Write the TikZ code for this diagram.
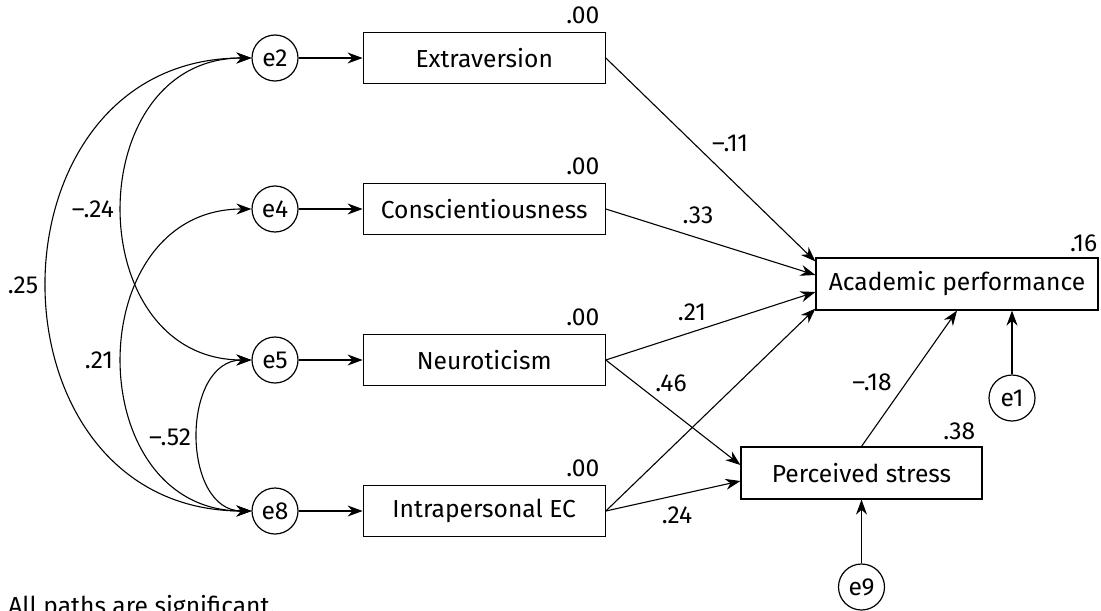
\documentclass[tikz,border=0pt]{standalone}
\usepackage{fontspec}
\setmainfont{Fira Sans}
\usetikzlibrary{positioning, arrows.meta, calc}

\tikzset{
  errnode/.style={draw, circle, line width=0.6pt, minimum size=23pt, inner sep=0pt},
  obsbox/.style={draw, rectangle, line width=0.6pt, minimum width=121pt, minimum height=25.5pt, inner sep=0pt},
  arrowline/.style={-{Stealth[length=7.5pt, width=5.5pt]}, line width=0.55pt},
  covline/.style={{Stealth[length=7.5pt, width=5.5pt]}-{Stealth[length=7.5pt, width=5.5pt]}, line width=0.55pt},
  coef/.style={inner sep=0pt},
}

\begin{document}
\begin{tikzpicture}[x=0.5pt, y=-0.5pt, font=\fontsize{12.3}{14}\selectfont]
  \useasboundingbox (0,0) rectangle (1101,610);

  % error terms of the predictors
  \node[errnode] (e2) at (275,58) {e2};
  \node[errnode] (e4) at (275,209) {e4};
  \node[errnode] (e5) at (275,360) {e5};
  \node[errnode] (e8) at (275,511) {e8};

  % predictors
  \node[obsbox, right=32pt of e2] (ext) {Extraversion};
  \node[obsbox, right=32pt of e4] (consc) {Conscientiousness};
  \node[obsbox, right=32pt of e5] (neuro) {Neuroticism};
  \node[obsbox, right=32pt of e8] (intra) {Intrapersonal EC};

  % outcomes
  \node[obsbox, minimum width=141pt, minimum height=26pt] (acad) at (957,284) {Academic performance};
  \node[obsbox, minimum width=120.5pt, minimum height=26pt] (stress) at (861.5,473) {Perceived stress};
  \node[errnode] (e1) at (1012,398) {e1};
  \node[errnode] (e9) at (861.5,587) {e9};

  % squared multiple correlations
  \node[coef, anchor=base east] (r2ext) at ([shift={(-3pt,4pt)}]ext.north east) {.00};
  \node[coef, anchor=base east] (r2consc) at ([shift={(-3pt,4pt)}]consc.north east) {.00};
  \node[coef, anchor=base east] (r2neuro) at ([shift={(-3pt,4pt)}]neuro.north east) {.00};
  \node[coef, anchor=base east] (r2intra) at ([shift={(-3pt,4pt)}]intra.north east) {.00};
  \node[coef, anchor=base east] (r2acad) at ([shift={(-0.5pt,3pt)}]acad.north east) {.16};
  \node[coef, anchor=base east] (r2stress) at ([shift={(-3.5pt,3.5pt)}]stress.north east) {.38};

  % error arrows
  \draw[arrowline] (e2) -- (ext);
  \draw[arrowline] (e4) -- (consc);
  \draw[arrowline] (e5) -- (neuro);
  \draw[arrowline] (e8) -- (intra);
  \draw[arrowline] (e1) -- (e1 |- acad.south);
  \draw[arrowline] (e9) -- (stress);

  % structural paths
  \draw[arrowline] (ext.east) -- ([yshift=-2pt]acad.north west);
  \draw[arrowline] (consc.east) -- ([yshift=4.5pt]acad.west);
  \draw[arrowline] (neuro.east) -- ([yshift=-4pt]acad.west);
  \draw[arrowline] (intra.east) -- ([yshift=1pt]acad.south west);
  \draw[arrowline] (neuro.east) -- ([yshift=4pt]stress.west);
  \draw[arrowline] (intra.east) -- ([yshift=-4pt]stress.west);
  \draw[arrowline] (stress.north) -- (acad.south);

  % covariances between the error terms
  \draw[covline] (e2.west) to[out=180, in=180, looseness=1.54] (e8.west);
  \draw[covline] (e2.west) to[out=180, in=180, looseness=1.46] (e5.west);
  \draw[covline] (e4.west) to[out=180, in=180, looseness=1.46] (e8.west);
  \draw[covline] (e5.west) to[out=180, in=180, looseness=1.2] (e8.west);

  % coefficients
  \node[coef] (cext) at (730,143) {–.11};
  \node[coef] (cconsc) at (698,215) {.33};
  \node[coef] (cneuro) at (692,312) {.21};
  \node[coef] (cneurostress) at (671,383) {.46};
  \node[coef] (cintra) at (677,515) {.24};
  \node[coef] (cstress) at (872,382) {–.18};
  \node[coef] (ce2e5) at (93,209) {–.24};
  \node[coef] (ce2e8) at (23,285) {.25};
  \node[coef] (ce4e8) at (99,360) {.21};
  \node[coef] (ce5e8) at (170,437) {–.52};

  \node[coef, anchor=base west] (note) at (8,614) {All paths are significant.};
\end{tikzpicture}
\end{document}
